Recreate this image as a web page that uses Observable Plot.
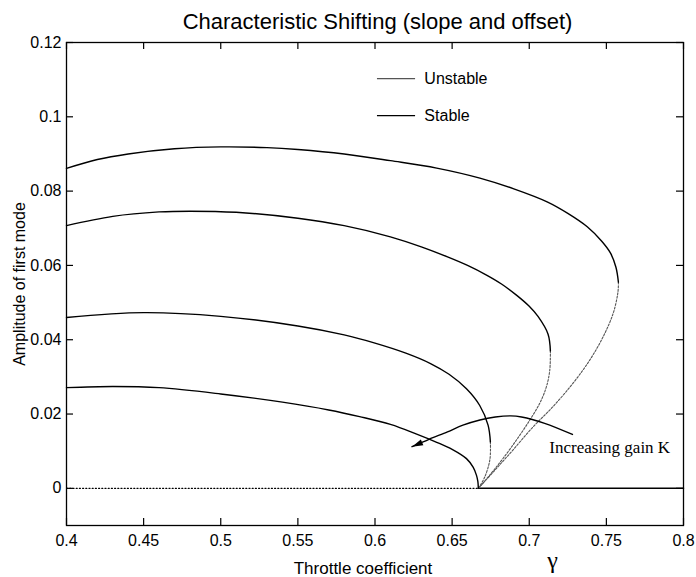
<!DOCTYPE html>
<html>
<head>
<meta charset="utf-8">
<script src="https://cdn.jsdelivr.net/npm/d3@7"></script>
<script src="https://cdn.jsdelivr.net/npm/@observablehq/plot@0.6"></script>
<style>
  html, body { margin: 0; padding: 0; background: #fff; }
  #chart { width: 696px; height: 577px; }
</style>
</head>
<body>
<div id="chart"></div>
<script>
// Axis ticks
const xTicks = [0.4, 0.45, 0.5, 0.55, 0.6, 0.65, 0.7, 0.75, 0.8];
const yTicks = [0, 0.02, 0.04, 0.06, 0.08, 0.1, 0.12];

// Critical throttle coefficient where every branch meets the zero solution
const gammaCrit = 0.667;

// Limit-cycle amplitude branches, one per gain K (gamma, amplitude)
const stableK1 = [[0.40,0.0271],[0.43,0.0274],[0.46,0.0271],[0.50,0.0254],[0.54,0.0232],[0.57,0.0211],
  [0.59,0.0193],[0.61,0.0172],[0.627,0.0146],[0.640,0.0124],[0.650,0.0105],[0.6593,0.0080],
  [0.6636,0.0057],[0.6658,0.0035],[0.6667,0.0018],[0.667,0]];

const stableK2 = [[0.40,0.0460],[0.45,0.0473],[0.50,0.0463],[0.55,0.0437],[0.58,0.0413],[0.60,0.0391],
  [0.62,0.0364],[0.636,0.0336],[0.648,0.0307],[0.6593,0.0268],[0.6679,0.0223],[0.6733,0.0170],
  [0.6748,0.0125]];
const unstableK2 = [[0.6748,0.0125],[0.6745,0.0078],[0.6712,0.0031],[0.667,0]];

const stableK3 = [[0.40,0.0707],[0.43,0.0732],[0.46,0.0744],[0.48,0.0746],[0.51,0.0743],[0.55,0.0727],
  [0.58,0.0707],[0.61,0.0677],[0.63,0.0650],[0.647,0.0623],[0.66,0.0600],[0.6723,0.0574],
  [0.682,0.0550],[0.6917,0.0520],[0.700,0.0490],[0.7058,0.0462],[0.7122,0.0415],[0.7137,0.0370]];
const unstableK3 = [[0.7137,0.0370],[0.7133,0.0318],[0.7111,0.0273],[0.7068,0.0229],[0.7004,0.0184],
  [0.6917,0.0130],[0.6831,0.0081],[0.6745,0.0036],[0.667,0]];

const stableK4 = [[0.40,0.0861],[0.42,0.0885],[0.44,0.0900],[0.47,0.0914],[0.50,0.0919],[0.53,0.0917],
  [0.55,0.0912],[0.58,0.0900],[0.61,0.0882],[0.64,0.0862],[0.668,0.0835],[0.69,0.0806],
  [0.7116,0.0771],[0.725,0.0740],[0.7376,0.0704],[0.7470,0.0665],[0.7527,0.0633],[0.7562,0.0595],
  [0.7578,0.0555]];
const unstableK4 = [[0.7578,0.0555],[0.7575,0.0528],[0.7544,0.0471],[0.7479,0.0408],[0.7392,0.0345],
  [0.7284,0.0283],[0.7154,0.0220],[0.7024,0.0165],[0.6894,0.0103],[0.6786,0.0053],[0.667,0]];

// Zero-amplitude solution: unstable below the critical throttle, stable above
const zeroUnstable = [[0.4,0],[gammaCrit,0]];
const zeroStable = [[gammaCrit,0],[0.8,0]];

// Annotation arrow showing the direction of increasing gain
const gainArrow = [[0.728,0.0145],[0.71,0.0175],[0.695,0.0192],[0.688,0.0195],[0.678,0.0192],
  [0.668,0.0184],[0.657,0.0170],[0.647,0.0152],[0.635,0.0132],[0.624,0.0112]];
const gainNote = {text: "Increasing gain K", x: 0.713, y: 0.0109};

// Legend entries
const legendItems = ["Unstable", "Stable"];

const toRows = (pts, id) => pts.map(([x, y]) => ({x, y, id}));
const stableRows = [
  ...toRows(stableK1, "K1"), ...toRows(stableK2, "K2"),
  ...toRows(stableK3, "K3"), ...toRows(stableK4, "K4")
];
const unstableRows = [
  ...toRows(unstableK2, "K2"), ...toRows(unstableK3, "K3"), ...toRows(unstableK4, "K4")
];

const W = 696, H = 577;
const mL = 66, mR = 13, mT = 42, mB = 52;
const plotW = W - mL - mR, plotH = H - mT - mB;
const xDom = [0.4, 0.8], yDom = [-0.01, 0.12];
const tickLen = 7;

// Arrowhead orientation in screen space from the last segment of the arrow path
const kx = plotW / (xDom[1] - xDom[0]);
const ky = plotH / (yDom[1] - yDom[0]);
const [pa, pb] = gainArrow.slice(-2);
const headAngle = Math.atan2(-(pb[1] - pa[1]) * ky, (pb[0] - pa[0]) * kx) * 180 / Math.PI;
const arrowHead = {
  draw(ctx) {
    ctx.moveTo(0, 0);
    ctx.lineTo(-11, -3.2);
    ctx.lineTo(-11, 3.2);
    ctx.closePath();
  }
};

// Legend layout (inside the axes, upper middle)
const legX0 = 0.6016, legX1 = 0.6263, legTextX = 0.632;
const legY = [0.1103, 0.1003];
const legendLines = legendItems.map((label, i) => ({label, y: legY[i]}));

const unstableStroke = "#555";
const unstableDash = "2,1.6";
const serif = "'Liberation Serif', 'Times New Roman', serif";

const chart = Plot.plot({
  width: W,
  height: H,
  marginLeft: mL, marginRight: mR, marginTop: mT, marginBottom: mB,
  x: {domain: xDom},
  y: {domain: yDom},
  style: {fontFamily: "'Liberation Sans', Arial, Helvetica, sans-serif", fontSize: "16px", background: "#fff", color: "#000"},
  marks: [
    // tick labels
    Plot.axisX(xTicks, {tickSize: 0, tickPadding: 9, tickFormat: d => String(d), label: null, fontSize: 16}),
    Plot.axisY(yTicks, {tickSize: 0, tickPadding: 5, tickFormat: d => String(d), label: null, fontSize: 16}),
    // inward tick marks on all four sides
    Plot.tickX(xTicks, {x: d => d, insetTop: plotH - tickLen, stroke: "#000", strokeWidth: 1.2}),
    Plot.tickX(xTicks, {x: d => d, insetBottom: plotH - tickLen, stroke: "#000", strokeWidth: 1.2}),
    Plot.tickY(yTicks, {y: d => d, insetRight: plotW - tickLen, stroke: "#000", strokeWidth: 1.2}),
    Plot.tickY(yTicks, {y: d => d, insetLeft: plotW - tickLen, stroke: "#000", strokeWidth: 1.2}),
    // zero solution
    Plot.line(zeroUnstable, {x: d => d[0], y: d => d[1], stroke: "#000", strokeWidth: 1.1, strokeDasharray: "1.2,2"}),
    Plot.line(zeroStable, {x: d => d[0], y: d => d[1], stroke: "#000", strokeWidth: 1.5}),
    // limit-cycle branches
    Plot.line(unstableRows, {x: "x", y: "y", z: "id", curve: "catmull-rom", stroke: unstableStroke, strokeWidth: 1.1, strokeDasharray: unstableDash}),
    Plot.line(stableRows, {x: "x", y: "y", z: "id", curve: "catmull-rom", stroke: "#000", strokeWidth: 1.4}),
    // gain annotation
    Plot.line(gainArrow, {x: d => d[0], y: d => d[1], curve: "catmull-rom", stroke: "#000", strokeWidth: 1.4}),
    Plot.dot(gainArrow.slice(-1), {x: d => d[0], y: d => d[1], symbol: arrowHead, rotate: headAngle, fill: "#000", stroke: "none"}),
    Plot.text([gainNote], {x: "x", y: "y", text: "text", textAnchor: "start", fontFamily: serif, fontSize: 17, fill: "#000"}),
    // legend
    Plot.ruleY(legendLines, {y: "y", x1: legX0, x2: legX1,
      stroke: d => d.label === "Unstable" ? unstableStroke : "#000",
      strokeDasharray: d => d.label === "Unstable" ? "1.2,1" : null,
      strokeWidth: 1.2}),
    Plot.text(legendLines, {x: legTextX, y: "y", text: "label", textAnchor: "start", fontSize: 16, fill: "#000"}),
    // frame
    Plot.frame({stroke: "#000", strokeWidth: 1.3}),
    // titles
    Plot.text(["Characteristic Shifting (slope and offset)"], {text: d => d, frameAnchor: "top", dx: 2.5, dy: -21, fontSize: 22, lineAnchor: "middle", fill: "#000"}),
    Plot.text(["Amplitude of first mode"], {text: d => d, frameAnchor: "left", dx: -47, rotate: -90, fontSize: 16, lineAnchor: "middle", textAnchor: "middle", fill: "#000"}),
    Plot.text(["Throttle coefficient"], {text: d => d, frameAnchor: "bottom", dx: -12, dy: 43, fontSize: 17, lineAnchor: "middle", fill: "#000"}),
    Plot.text(["γ"], {text: d => d, frameAnchor: "bottom", dx: 177.5, dy: 35, fontSize: 24, lineAnchor: "middle", fontFamily: serif, fill: "#000"})
  ]
});

document.getElementById("chart").appendChild(chart);
</script>
</body>
</html>
